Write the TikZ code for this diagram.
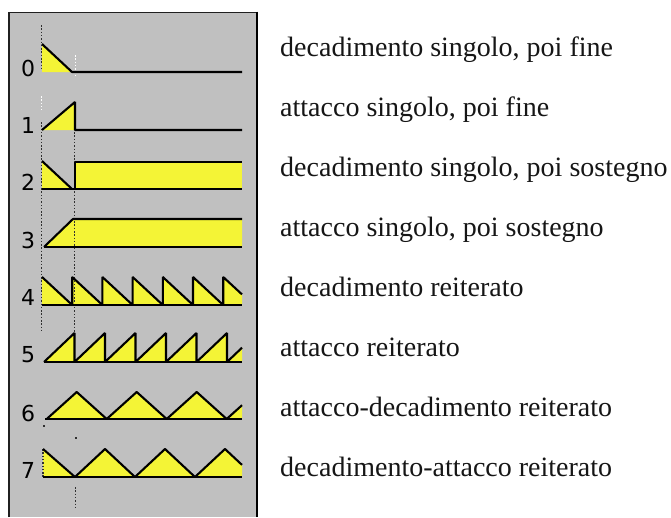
\documentclass[tikz,border=0pt]{standalone}
\usepackage{fontspec}
\setmainfont{Liberation Serif}
\newfontfamily\digitfont{DejaVu Sans}
\definecolor{panelgray}{HTML}{C0C0C0}
\definecolor{wyellow}{HTML}{F4F436}
\definecolor{guidecol}{HTML}{303030}
\definecolor{bordercol}{HTML}{202020}
\definecolor{textcol}{HTML}{161616}
\tikzset{
  wave/.style={line width=2.1pt, black, line join=bevel},
  wfill/.style={fill=wyellow},
  guide/.style={line width=1.4pt, dash pattern=on 1.5pt off 1.8pt, guidecol},
  whiteguide/.style={guide, white},
  desc/.style={anchor=base west, inner sep=0pt, text=textcol, font=\fontsize{28}{30}\selectfont},
  num/.style={anchor=center, inner sep=0pt, text=black, font=\digitfont\fontsize{22}{24}\selectfont},
  tick/.style={fill=guidecol, inner sep=0pt, minimum size=1.6pt, shape=rectangle}
}
\begin{document}
\begin{tikzpicture}[x=1pt,y=-1pt]
\useasboundingbox (0,0) rectangle (671,517);
% panel
\fill[panelgray] (9,12) rectangle (257,517);
\draw[bordercol, line width=1.6pt] (9,517) -- (9,12.5) -- (256,12.5);
\draw[black, line width=2.6pt] (256.8,11.7) -- (256.8,517);

% ---------- yellow fills ----------
% row 0
\fill[wfill] (42,44) -- (72,72) -- (42,72) -- cycle;
% row 1
\fill[wfill] (42,130) -- (75,102) -- (75,130) -- cycle;
% row 2
\fill[wfill] (42,161) -- (72,189) -- (42,189) -- cycle;
\fill[wfill] (75,162) rectangle (242,189);
% row 3
\fill[wfill] (44,247) -- (73,219) -- (242,219) -- (242,247) -- cycle;
% row 4
\fill[wfill] (42,305) -- (42,277) -- (72.2,305) -- (72.2,277) -- (102.4,305) -- (102.4,277) -- (132.6,305) -- (132.6,277) -- (162.8,305) -- (162.8,277) -- (193,305) -- (193,277) -- (223.2,305) -- (223.2,277) -- (242,294.4) -- (242,305) -- cycle;
% row 5
\fill[wfill] (44,362) -- (74.5,333) -- (74.5,362) -- (105,333) -- (105,362) -- (135.5,333) -- (135.5,362) -- (166,333) -- (166,362) -- (196.5,333) -- (196.5,362) -- (227,333) -- (227,362) -- (242,347.7) -- (242,362) -- cycle;
% row 6
\fill[wfill] (46.7,419) -- (76.7,392) -- (106.7,419) -- (136.7,392) -- (166.7,419) -- (196.7,392) -- (226.7,419) -- (242,405.2) -- (242,419) -- cycle;
% row 7
\fill[wfill] (43,477) -- (43,449) -- (75,477) -- (105,449) -- (135,477) -- (165,449) -- (195,477) -- (225,449) -- (242,464.9) -- (242,477) -- cycle;

% ---------- dotted guides ----------
\draw[guide] (41.5,25) -- (41.5,68);
\draw[whiteguide] (41.5,96) -- (41.5,110);
\draw[guide] (41.5,122) -- (41.5,332);
\draw[whiteguide] (75.5,55) -- (75.5,78);
\draw[guide] (74.5,132) -- (74.5,332);
\draw[guide] (43,449) -- (43,477);
\draw[guide] (75.5,487) -- (75.5,509);
\node[tick] (dotA) at (44,426) {};
\node[tick] (dotB) at (76,438) {};

% ---------- black outlines ----------
% row 0
\draw[wave] (42,44) -- (72,72) -- (242,72);
% row 1
\draw[wave] (42,130) -- (75,102) -- (75,130) -- (242,130);
% row 2
\draw[wave] (42,161) -- (72,189);
\draw[wave] (42,189) -- (242,189);
\draw[wave] (75,189) -- (75,162) -- (242,162);
% row 3
\draw[wave] (44,247) -- (73,219) -- (242,219);
\draw[wave] (44,247) -- (242,247);
% row 4
\draw[wave] (42,277) -- (72.2,305) -- (72.2,277) -- (102.4,305) -- (102.4,277) -- (132.6,305) -- (132.6,277) -- (162.8,305) -- (162.8,277) -- (193,305) -- (193,277) -- (223.2,305) -- (223.2,277) -- (242,294.4);
\draw[wave] (42,305) -- (242,305);
% row 5
\draw[wave] (44,362) -- (74.5,333) -- (74.5,362) -- (105,333) -- (105,362) -- (135.5,333) -- (135.5,362) -- (166,333) -- (166,362) -- (196.5,333) -- (196.5,362) -- (227,333) -- (227,362) -- (242,347.7);
\draw[wave] (44,362) -- (242,362);
% row 6
\draw[wave] (46.7,419) -- (76.7,392) -- (106.7,419) -- (136.7,392) -- (166.7,419) -- (196.7,392) -- (226.7,419) -- (242,405.2);
\draw[wave] (45,419) -- (242,419);
% row 7
\draw[wave] (43,449) -- (75,477) -- (105,449) -- (135,477) -- (165,449) -- (195,477) -- (225,449) -- (242,464.9);
\draw[wave] (43,477) -- (242,477);

% ---------- digit labels ----------
\node[num] (n0) at (28,68) {0};
\node[num] (n1) at (28,125) {1};
\node[num] (n2) at (28,182) {2};
\node[num] (n3) at (28,240) {3};
\node[num] (n4) at (28,297) {4};
\node[num] (n5) at (28,355) {5};
\node[num] (n6) at (28,413) {6};
\node[num] (n7) at (28,470) {7};

% ---------- descriptions ----------
\node[desc] (t0) at (280,56) {decadimento singolo, poi fine};
\node[desc] (t1) at (280,116) {attacco singolo, poi fine};
\node[desc] (t2) at (280,176) {decadimento singolo, poi sostegno};
\node[desc] (t3) at (280,236) {attacco singolo, poi sostegno};
\node[desc] (t4) at (280,296) {decadimento reiterato};
\node[desc] (t5) at (280,356) {attacco reiterato};
\node[desc] (t6) at (280,416) {attacco-decadimento reiterato};
\node[desc] (t7) at (280,476) {decadimento-attacco reiterato};
\end{tikzpicture}
\end{document}
